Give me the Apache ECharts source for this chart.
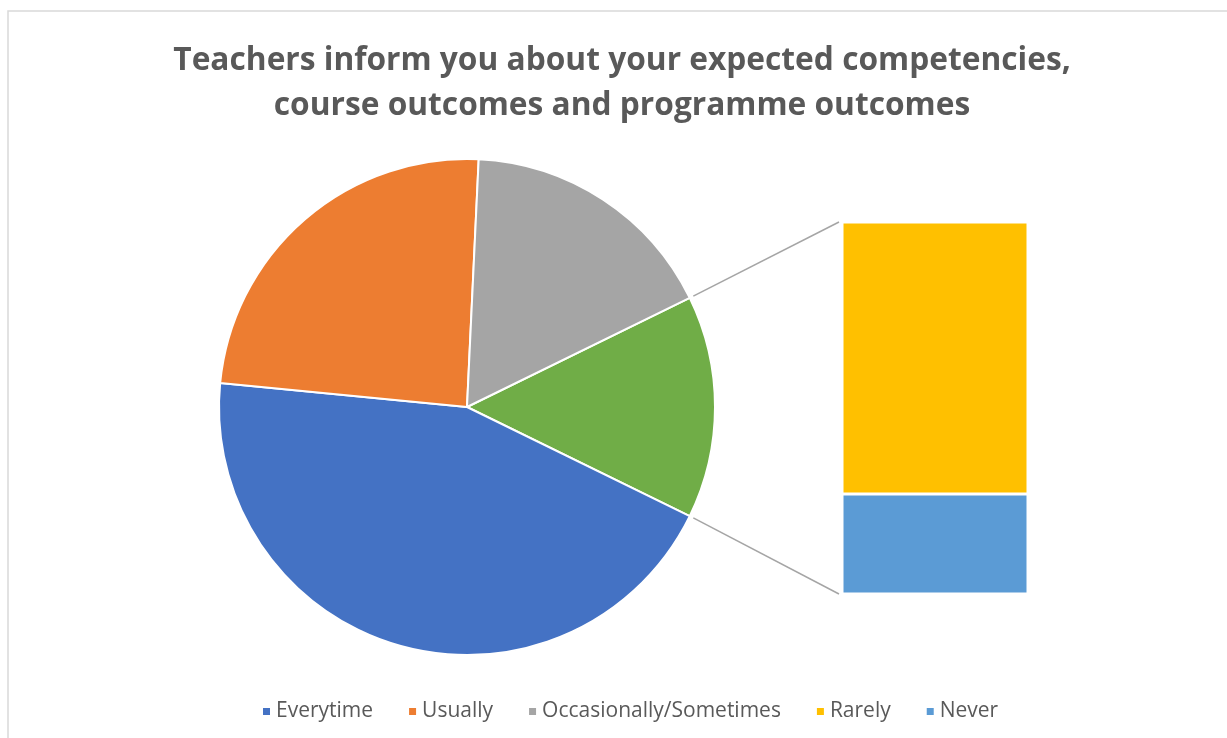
<!DOCTYPE html>
<html>
<head>
<meta charset="utf-8">
<script src="https://cdn.jsdelivr.net/npm/echarts@6/dist/echarts.min.js"></script>
<style>
  html, body { margin: 0; padding: 0; background: #fff; }
  #main { width: 1227px; height: 738px; }
</style>
</head>
<body>
<div id="main"></div>
<script>
// pie slices (percent of answers)
var pieNames = ['Everytime', 'Usually', 'Occasionally/Sometimes'];
var pieValues = [44.3, 24.2, 17.0];
var pieColors = ['#4472C4', '#ED7D31', '#A5A5A5'];
// split out into the bar on the right
var barNames = ['Rarely', 'Never'];
var barValues = [10.6, 3.9];
var barColors = ['#FFC000', '#5B9BD5'];
var otherColor = '#70AD47';

var titleText = 'Teachers inform you about your expected competencies,\ncourse outcomes and programme outcomes';

var pieCenter = [467, 407];
var pieRadius = 248;
var barGrid = {left: 842, top: 222, width: 186, height: 372};

var otherValue = barValues[0] + barValues[1];
var total = pieValues.reduce(function(a, b){ return a + b; }, 0) + otherValue;
var otherAngle = otherValue / total * 360;

// "Other" slice goes first, centred on 3 o'clock like Excel does it
var pieData = [{name: 'Other', value: otherValue, itemStyle: {color: otherColor}}];
for (var i = 0; i < pieNames.length; i++) {
	pieData.push({name: pieNames[i], value: pieValues[i], itemStyle: {color: pieColors[i]}});
}

var myChart = echarts.init(document.getElementById('main'));

var option = {
	animation: false,
	title: {
		text: titleText,
		left: 617,
		top: 33,
		textAlign: 'center',
		textStyle: {
			fontFamily: 'Open Sans',
			fontWeight: 'bold',
			fontSize: 31.7,
			lineHeight: 45,
			color: '#595959'
		}
	},
	legend: {
		data: pieNames.concat(barNames),
		left: 256,
		top: 696,
		icon: 'rect',
		itemWidth: 9,
		itemHeight: 9,
		itemGap: 34,
		textStyle: {fontFamily: 'Open Sans', fontSize: 21, color: '#595959'}
	},
	grid: {left: barGrid.left, top: barGrid.top, width: barGrid.width, height: barGrid.height},
	xAxis: {type: 'category', data: ['Other'], show: false},
	yAxis: {type: 'value', min: 0, max: otherValue, show: false},
	series: [
		{
			name: 'pie',
			type: 'pie',
			center: pieCenter,
			radius: pieRadius,
			startAngle: otherAngle / 2,
			clockwise: true,
			label: {show: false},
			labelLine: {show: false},
			emphasis: {disabled: true},
			itemStyle: {borderColor: '#fff', borderWidth: 2},
			data: pieData
		},
		{
			name: barNames[1],
			type: 'bar',
			stack: 'other',
			barWidth: '100%',
			itemStyle: {color: barColors[1], borderColor: '#fff', borderWidth: 1.5},
			data: [barValues[1]]
		},
		{
			name: barNames[0],
			type: 'bar',
			stack: 'other',
			barWidth: '100%',
			itemStyle: {color: barColors[0], borderColor: '#fff', borderWidth: 1.5},
			data: [barValues[0]]
		}
	]
};
myChart.setOption(option);

// connector lines from the "Other" slice edges to the bar corners
var half = otherAngle / 2 * Math.PI / 180;
var r0 = pieRadius + 4;
var topY = myChart.convertToPixel({yAxisIndex: 0}, otherValue);
var botY = myChart.convertToPixel({yAxisIndex: 0}, 0);
var lineX = barGrid.left - 3;
myChart.setOption({
	graphic: [
		{
			type: 'rect',
			shape: {x: 8, y: 11, width: 1260, height: 760},
			style: {fill: 'none', stroke: '#D9D9D9', lineWidth: 1.5},
			silent: true,
			z: -10
		},
		{
			type: 'line',
			shape: {x1: pieCenter[0] + r0 * Math.cos(half), y1: pieCenter[1] - r0 * Math.sin(half), x2: lineX, y2: topY},
			style: {stroke: '#A5A5A5', lineWidth: 1.5}
		},
		{
			type: 'line',
			shape: {x1: pieCenter[0] + r0 * Math.cos(half), y1: pieCenter[1] + r0 * Math.sin(half), x2: lineX, y2: botY},
			style: {stroke: '#A5A5A5', lineWidth: 1.5}
		}
	]
});
</script>
</body>
</html>
